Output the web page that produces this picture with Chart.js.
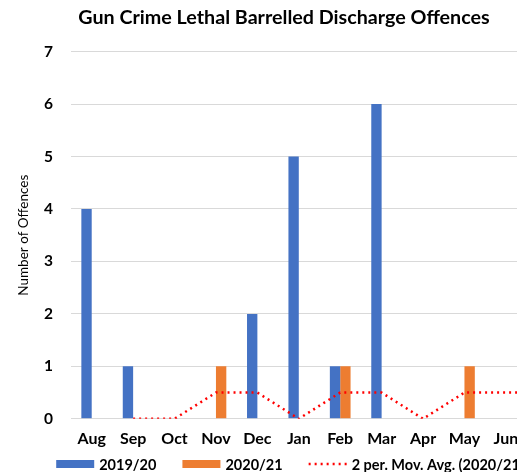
<!DOCTYPE html>
<html>
<head>
<meta charset="utf-8">
<script src="https://cdn.jsdelivr.net/npm/chart.js@4"></script>
<style>
    html, body { margin: 0; padding: 0; background: #fff; }
    #wrap { width: 517px; height: 472px; overflow: hidden; }
    #box { width: 580px; height: 472px; }
</style>
</head>
<body>
<div id="wrap"><div id="box"><canvas id="crimeChart"></canvas></div></div>
<script>
// Chart data (Jul is off the cropped edge of the original)
const months = ['Aug', 'Sep', 'Oct', 'Nov', 'Dec', 'Jan', 'Feb', 'Mar', 'Apr', 'May', 'Jun', 'Jul'];
const season1920 = [4, 1, 0, 0, 2, 5, 1, 6, 0, 0, 0, 0];
const season2021 = [0, 0, 0, 1, 0, 0, 1, 0, 0, 1, 0, 1];
const movingAvg = [null, 0, 0, 0.5, 0.5, 0, 0.5, 0.5, 0, 0.5, 0.5, 0.5];
const yTicks = [0, 1, 2, 3, 4, 5, 6, 7];

const FONT = 'Lato, "Open Sans", sans-serif';
const DOTS = [2, 4];

// Legend drawn under the axis, Excel style (wide swatches, tight rows)
const bottomLegend = {
    id: 'bottomLegend',
    afterDraw(chart, args, opts) {
        const { ctx } = chart;
        const sets = chart.data.datasets;
        ctx.save();
        ctx.font = `bold ${opts.fontSize}px ${FONT}`;
        ctx.textBaseline = 'middle';
        const widths = sets.map(ds => opts.swatch + opts.gap + ctx.measureText(ds.label).width);
        const total = widths.reduce((a, b) => a + b, 0) + opts.spacing * (sets.length - 1);
        let x = chart.width / 2 - total / 2;
        const y = chart.height - opts.bottom;
        sets.forEach((ds, i) => {
            if (ds.type === 'line') {
                ctx.strokeStyle = ds.borderColor;
                ctx.lineWidth = ds.borderWidth;
                ctx.setLineDash(ds.borderDash || []);
                ctx.beginPath();
                ctx.moveTo(x, y);
                ctx.lineTo(x + opts.swatch, y);
                ctx.stroke();
                ctx.setLineDash([]);
            } else {
                ctx.fillStyle = ds.backgroundColor;
                ctx.fillRect(x, y - opts.boxHeight / 2, opts.swatch, opts.boxHeight);
            }
            ctx.fillStyle = '#000';
            ctx.fillText(ds.label, x + opts.swatch + opts.gap, y + 1);
            x += widths[i] + opts.spacing;
        });
        ctx.restore();
    }
};

const ctx = document.getElementById('crimeChart');

new Chart(ctx, {
    type: 'bar',
    data: {
        labels: months,
        datasets: [
            {
                label: '2019/20',
                data: season1920,
                backgroundColor: '#4472C4',
                categoryPercentage: 0.5,
                barPercentage: 1.0,
                order: 2
            },
            {
                label: '2020/21',
                data: season2021,
                backgroundColor: '#ED7D31',
                categoryPercentage: 0.5,
                barPercentage: 1.0,
                order: 2
            },
            {
                type: 'line',
                label: '2 per. Mov. Avg. (2020/21)',
                data: movingAvg,
                borderColor: '#FF0000',
                backgroundColor: '#FF0000',
                borderWidth: 2.5,
                borderDash: DOTS,
                borderCapStyle: 'butt',
                pointRadius: 0,
                tension: 0,
                fill: false,
                order: 1
            }
        ]
    },
    plugins: [bottomLegend],
    options: {
        responsive: true,
        maintainAspectRatio: false,
        animation: false,
        layout: { padding: { left: 0, right: 12, top: 2, bottom: 14 } },
        plugins: {
            title: {
                display: true,
                text: 'Gun Crime Lethal Barrelled Discharge Offences',
                color: '#000',
                font: { family: FONT, size: 19.7, weight: 'bold' },
                padding: { top: 4, bottom: 22 }
            },
            legend: { display: false },
            bottomLegend: { fontSize: 14.5, swatch: 38, boxHeight: 8, gap: 5, spacing: 26, bottom: 8 },
            tooltip: { enabled: false }
        },
        scales: {
            x: {
                grid: { display: false, drawTicks: false },
                border: { color: '#d9d9d9' },
                ticks: {
                    color: '#000',
                    font: { family: FONT, size: 16, weight: 'bold' },
                    padding: 10,
                    maxRotation: 0
                }
            },
            y: {
                min: 0,
                max: yTicks[yTicks.length - 1],
                afterBuildTicks: (axis) => {
                    axis.ticks = yTicks.map(v => ({ value: v }));
                },
                afterFit: (axis) => {
                    axis.width = 71;
                },
                grid: { color: '#d9d9d9', drawTicks: false },
                border: { display: false },
                ticks: {
                    color: '#000',
                    font: { family: FONT, size: 15.5, weight: 'bold' },
                    padding: 18
                },
                title: {
                    display: true,
                    text: 'Number of Offences',
                    color: '#000',
                    font: { family: FONT, size: 13.5 },
                    padding: { top: 16, bottom: 0 }
                }
            }
        }
    }
});
</script>
</body>
</html>
